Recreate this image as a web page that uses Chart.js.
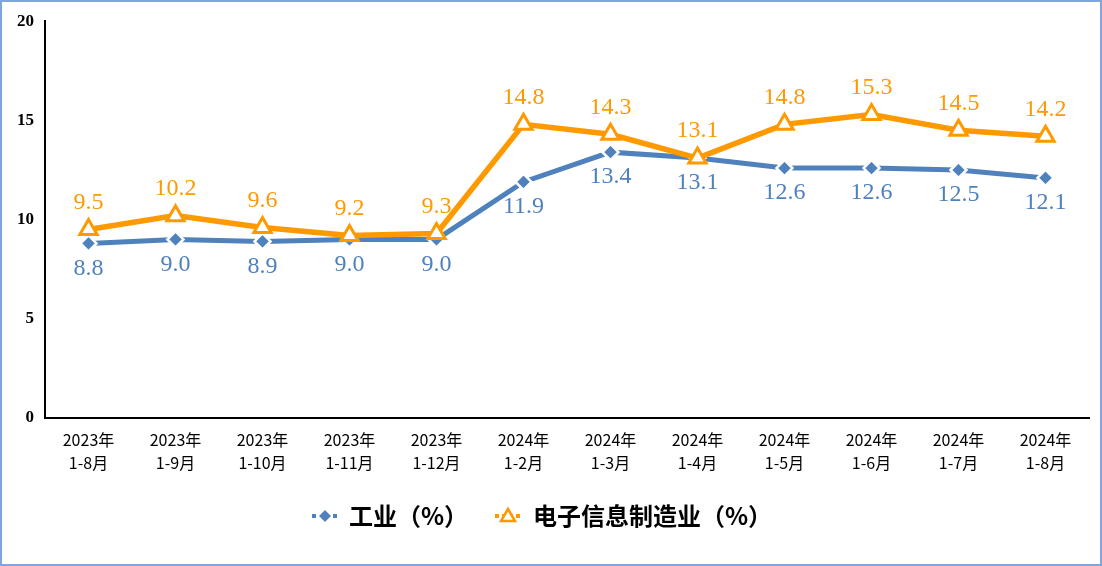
<!DOCTYPE html>
<html>
<head>
<meta charset="utf-8">
<script src="https://cdn.jsdelivr.net/npm/chart.js@4.4.1/dist/chart.umd.min.js"></script>
<style>
  html, body { margin: 0; padding: 0; background: #fff; }
  #wrap { position: relative; width: 1102px; height: 566px; }
</style>
</head>
<body>
<div id="wrap"><canvas id="chart" width="1102" height="566"></canvas></div>
<script>
// chart data
const years = ['2023年', '2023年', '2023年', '2023年', '2023年', '2024年', '2024年', '2024年', '2024年', '2024年', '2024年', '2024年'];
const periods = ['1-8月', '1-9月', '1-10月', '1-11月', '1-12月', '1-2月', '1-3月', '1-4月', '1-5月', '1-6月', '1-7月', '1-8月'];
const industry = [8.8, 9.0, 8.9, 9.0, 9.0, 11.9, 13.4, 13.1, 12.6, 12.6, 12.5, 12.1];
const electronics = [9.5, 10.2, 9.6, 9.2, 9.3, 14.8, 14.3, 13.1, 14.8, 15.3, 14.5, 14.2];
const seriesNames = ['工业（%）', '电子信息制造业（%）'];
const yTicks = [0, 5, 10, 15, 20];

const BLUE = '#4f81bd';
const ORANGE = '#ff9900';

const labels = years.map(function(y, i) { return [y, periods[i]]; });

// frame round the whole picture
const framePlugin = {
    id: 'frame',
    beforeDraw: function(chart) {
        const ctx = chart.ctx;
        ctx.save();
        ctx.fillStyle = '#fff';
        ctx.fillRect(0, 0, chart.width, chart.height);
        ctx.strokeStyle = '#7ea6dc';
        ctx.lineWidth = 2;
        ctx.strokeRect(1, 1, chart.width - 2, chart.height - 2);
        ctx.restore();
    }
};

// value labels above / below the points
const valueLabels = {
    id: 'valueLabels',
    afterDatasetsDraw: function(chart) {
        const ctx = chart.ctx;
        ctx.save();
        ctx.font = '24px "Liberation Serif", "Times New Roman", serif';
        ctx.textAlign = 'center';
        ctx.textBaseline = 'middle';
        chart.data.datasets.forEach(function(ds, di) {
            const meta = chart.getDatasetMeta(di);
            meta.data.forEach(function(pt, i) {
                const v = ds.data[i];
                ctx.fillStyle = ds.borderColor;
                const dy = ds.labelPos === 'above' ? -27 : 25;
                ctx.fillText(v.toFixed(1), pt.x, pt.y + dy);
            });
        });
        ctx.restore();
    }
};

// legend drawn by hand: short line with marker, then text
const legendPlugin = {
    id: 'handLegend',
    afterDraw: function(chart) {
        const ctx = chart.ctx;
        const y = 516;
        ctx.save();
        ctx.font = 'bold 24px "Noto Sans CJK SC", sans-serif';
        ctx.textBaseline = 'middle';

        // blue entry
        ctx.strokeStyle = BLUE;
        ctx.lineWidth = 4;
        ctx.setLineDash([4, 3]);
        ctx.beginPath(); ctx.moveTo(312, y); ctx.lineTo(338, y); ctx.stroke();
        ctx.setLineDash([]);
        ctx.fillStyle = BLUE;
        ctx.strokeStyle = '#fff';
        ctx.lineWidth = 1.5;
        ctx.beginPath();
        ctx.moveTo(325, y - 7); ctx.lineTo(332, y); ctx.lineTo(325, y + 7); ctx.lineTo(318, y);
        ctx.closePath(); ctx.fill(); ctx.stroke();
        ctx.fillStyle = '#000';
        ctx.fillText(seriesNames[0], 349, y);

        // orange entry
        ctx.strokeStyle = ORANGE;
        ctx.lineWidth = 4;
        ctx.setLineDash([4, 3]);
        ctx.beginPath(); ctx.moveTo(495, y); ctx.lineTo(522, y); ctx.stroke();
        ctx.setLineDash([]);
        ctx.fillStyle = '#fff';
        ctx.strokeStyle = ORANGE;
        ctx.lineWidth = 2.5;
        ctx.beginPath();
        ctx.moveTo(508, y - 7); ctx.lineTo(515, y + 5); ctx.lineTo(501, y + 5);
        ctx.closePath(); ctx.fill(); ctx.stroke();
        ctx.fillStyle = '#000';
        ctx.fillText(seriesNames[1], 533, y);
        ctx.restore();
    }
};

const config = {
    type: 'line',
    data: {
        labels: labels,
        datasets: [
            {
                label: seriesNames[0],
                data: industry,
                borderColor: BLUE,
                backgroundColor: BLUE,
                borderWidth: 5,
                pointStyle: 'rectRot',
                pointRadius: 8,
                pointBackgroundColor: BLUE,
                pointBorderColor: '#fff',
                pointBorderWidth: 2.5,
                tension: 0,
                order: 1,
                labelPos: 'below'
            },
            {
                label: seriesNames[1],
                data: electronics,
                borderColor: ORANGE,
                backgroundColor: ORANGE,
                borderWidth: 5.5,
                pointStyle: 'triangle',
                pointRadius: 10,
                pointBackgroundColor: '#fff',
                pointBorderColor: ORANGE,
                pointBorderWidth: 3,
                tension: 0,
                order: 0,
                labelPos: 'above'
            }
        ]
    },
    options: {
        responsive: false,
        animation: false,
        layout: { padding: { left: 0, right: 10, top: 18, bottom: 0 } },
        plugins: {
            legend: { display: false },
            tooltip: { enabled: false }
        },
        scales: {
            x: {
                offset: true,
                grid: { display: false, drawTicks: false, offset: true },
                border: { color: '#000', width: 2 },
                ticks: {
                    color: '#000',
                    font: { family: '"Noto Sans CJK SC", sans-serif', size: 16, lineHeight: 1.45 },
                    padding: 10,
                    maxRotation: 0,
                    autoSkip: false
                },
                afterFit: function(scale) { scale.height = 148; }
            },
            y: {
                min: 0,
                max: 20,
                afterBuildTicks: function(scale) {
                    scale.ticks = yTicks.map(function(v) { return { value: v }; });
                },
                grid: { display: false, drawTicks: false },
                border: { color: '#000', width: 2 },
                ticks: {
                    color: '#000',
                    font: { family: '"Liberation Serif", "Times New Roman", serif', size: 17, weight: 'bold' },
                    padding: 11
                },
                afterFit: function(scale) { scale.width = 45; }
            }
        }
    },
    plugins: [framePlugin, valueLabels, legendPlugin]
};

window.chart = new Chart(document.getElementById('chart'), config);
</script>
</body>
</html>
